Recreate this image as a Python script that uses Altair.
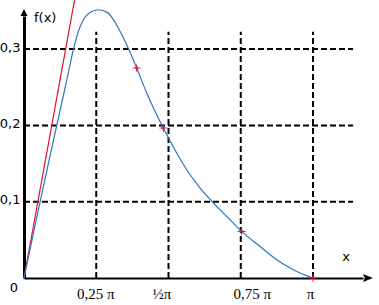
import math
import altair as alt
import pandas as pd

PI = math.pi

# blue curve f(x)
curve_x = [0.0, 0.166, 0.301, 0.45, 0.536, 0.590, 0.645, 0.717, 0.808, 0.913,
           0.975, 1.05, 1.141, 1.225, 1.334, 1.514, 1.551, 1.660, 1.769, 1.913,
           2.076, 2.239, 2.366, 2.565, 2.747, 2.927, 3.091, PI]
curve_y = [0.0, 0.095, 0.170, 0.251, 0.299, 0.323, 0.3385, 0.348, 0.3516, 0.3475,
           0.338, 0.322, 0.2992, 0.2752, 0.2425, 0.1966, 0.188, 0.1638, 0.1419, 0.118,
           0.0961, 0.0765, 0.0611, 0.0414, 0.0240, 0.0109, 0.0021, 0.0]

# red tangent at the origin
tangent_x = [0.0, 0.55]
tangent_y = [0.0, 0.3647]

# red star markers
star_x = [1.225, 1.514, 2.366, PI]
star_y = [0.2752, 0.1966, 0.0611, 0.0]

# ticks / labels
x_ticks = [PI / 4, PI / 2, 3 * PI / 4, PI]
x_labels = ["0,25 π", "½π", "0,75 π", "π"]
x_label_shift = [-1, -7, 11, -3]
y_ticks = [0.1, 0.2, 0.3]
y_labels = ["0,1", "0,2", "0,3"]

X_MAX = 3.685
Y_MAX = 0.3434
V_GRID_TOP = 0.3228
H_GRID_END = 3.577


def chain(ticks, items, default):
    expr = default
    for v, s in reversed(list(zip(ticks, items))):
        expr = f"abs(datum.value - {v}) < 0.001 ? {s} : ({expr})"
    return expr


x_label_expr = chain(x_ticks, [repr(l) for l in x_labels], "''")
y_label_expr = chain(y_ticks, [repr(l) for l in y_labels], "''")
x_offset_expr = chain(x_ticks, [str(o) for o in x_label_shift], "0")

curve_df = pd.DataFrame({"x": curve_x, "y": curve_y})
tan_df = pd.DataFrame({"x": tangent_x, "y": tangent_y})
star_df = pd.DataFrame({"x": star_x, "y": star_y})
vgrid_df = pd.DataFrame({"x": x_ticks, "y": [0.0] * 4, "y2": [V_GRID_TOP] * 4})
hgrid_df = pd.DataFrame({"y": y_ticks, "x": [0.0] * 3, "x2": [H_GRID_END] * 3})

xs = alt.Scale(domain=[0, X_MAX], nice=False, zero=False)
ys = alt.Scale(domain=[0, Y_MAX], nice=False, zero=False)

x_axis = alt.Axis(values=x_ticks, labelExpr=x_label_expr, title=None, grid=False,
                  ticks=False, tickSize=0, domain=True, domainColor="black",
                  domainWidth=2, labelFont="Liberation Serif", labelFontSize=15,
                  labelColor="black", labelPadding=8, labelFlush=False,
                  labelOverlap=False, labelOffset={"expr": x_offset_expr})
y_axis = alt.Axis(values=y_ticks, labelExpr=y_label_expr, title=None, grid=False,
                  ticks=False, tickSize=0, domain=True, domainColor="black",
                  domainWidth=3, labelFont="DejaVu Sans", labelFontSize=13,
                  labelColor="black", labelPadding=4, labelFlush=False,
                  labelOverlap=False, labelOffset=-2)

dash = [6, 3]
vgrid = alt.Chart(vgrid_df).mark_rule(color="black", strokeWidth=2, strokeDash=dash).encode(
    x=alt.X("x:Q", scale=xs, axis=x_axis),
    y=alt.Y("y:Q", scale=ys, axis=y_axis),
    y2="y2:Q",
)
hgrid = alt.Chart(hgrid_df).mark_rule(color="black", strokeWidth=2, strokeDash=dash).encode(
    x=alt.X("x:Q", scale=xs), x2="x2:Q", y=alt.Y("y:Q", scale=ys)
)

tangent = alt.Chart(tan_df).mark_line(color="#e3102c", strokeWidth=1.2, clip=False).encode(
    x=alt.X("x:Q", scale=xs), y=alt.Y("y:Q", scale=ys)
)
curve = alt.Chart(curve_df).mark_line(color="#2f76b8", strokeWidth=1.2,
                                      interpolate="monotone").encode(
    x=alt.X("x:Q", scale=xs), y=alt.Y("y:Q", scale=ys)
)

STAR = "M0,-1L0.16,-0.16L1,0L0.16,0.16L0,1L-0.16,0.16L-1,0L-0.16,-0.16Z"
stars = alt.Chart(star_df).mark_point(shape=STAR, filled=True, color="#d8103a",
                                      size=100, opacity=1).encode(
    x=alt.X("x:Q", scale=xs), y=alt.Y("y:Q", scale=ys)
)

arrow_df = pd.DataFrame({"x": [0.0], "y": [Y_MAX], "x2": [X_MAX], "y2": [0.0]})
up_arrow = alt.Chart(arrow_df).mark_point(shape="M-1,0L0,-2L1,0Z", filled=True,
                                          color="black", size=49, opacity=1).encode(
    x=alt.X("x:Q", scale=xs), y=alt.Y("y:Q", scale=ys)
)
right_arrow = alt.Chart(arrow_df).mark_point(shape="M0,-0.8L2,0L0,0.8L0.35,0Z", filled=True,
                                             color="black", size=100, opacity=1).encode(
    x=alt.X("x2:Q", scale=xs), y=alt.Y("y2:Q", scale=ys)
)

text_df = pd.DataFrame({"x": [0.0], "y": [Y_MAX], "x2": [X_MAX], "y2": [0.0]})
fx_label = alt.Chart(text_df).mark_text(text="f(x)", font="DejaVu Sans", fontSize=13,
                                        align="left", baseline="middle", dx=10, dy=1.5,
                                        color="black").encode(
    x=alt.X("x:Q", scale=xs), y=alt.Y("y:Q", scale=ys)
)
x_label = alt.Chart(text_df).mark_text(text="x", font="DejaVu Sans", fontSize=13,
                                       align="center", baseline="middle", dx=-17, dy=-21,
                                       color="black").encode(
    x=alt.X("x2:Q", scale=xs), y=alt.Y("y2:Q", scale=ys)
)
zero_label = alt.Chart(text_df).mark_text(text="0", font="DejaVu Sans", fontSize=13,
                                          align="center", baseline="middle", dx=-10, dy=10,
                                          color="black").encode(
    x=alt.X("x:Q", scale=xs), y=alt.Y("y2:Q", scale=ys)
)

chart = alt.layer(
    vgrid, hgrid, tangent, curve, stars, up_arrow, right_arrow,
    fx_label, x_label, zero_label
).properties(
    width=339, height=262,
    padding={"left": 24, "top": 16, "right": 16, "bottom": 27},
    autosize="none",
    background="white",
).configure_view(stroke=None)

chart.save("out.html", embed_options={"renderer": "svg", "actions": False})
